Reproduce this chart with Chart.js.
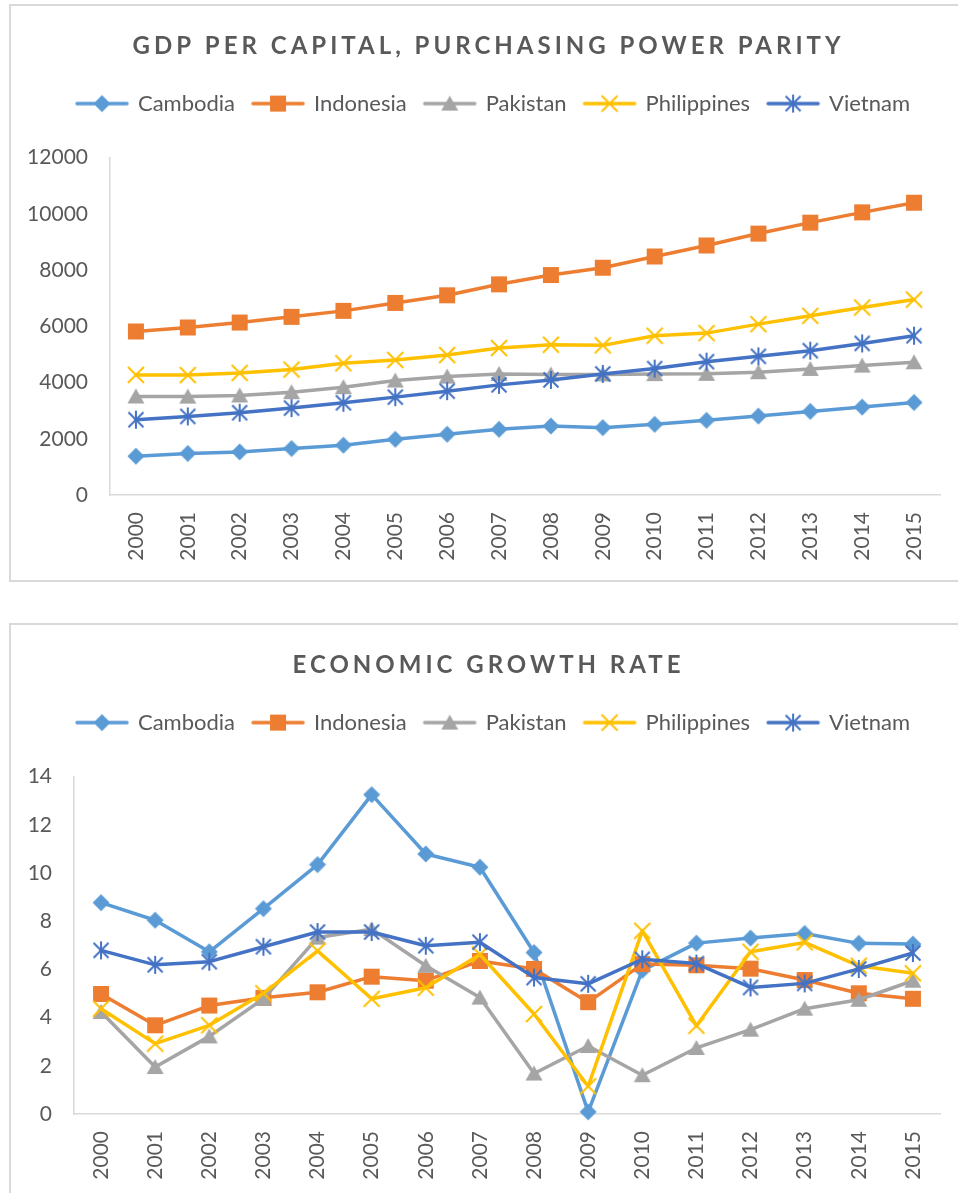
<!DOCTYPE html>
<html><head><meta charset="utf-8">
<script src="https://cdn.jsdelivr.net/npm/chart.js@4.4.1/dist/chart.umd.min.js"></script>
<style>
html,body{margin:0;padding:0;background:#fff;overflow:hidden;width:958px;height:1193px;position:relative;}
.box{position:absolute;left:9px;width:962px;border:2px solid #d9d9d9;box-sizing:border-box;}
#box1{top:4px;height:578px;}
#box2{top:623px;height:600px;}
canvas{position:absolute;left:11px;}
#c1{top:6px;}
#c2{top:625px;}
</style></head>
<body>
<div class="box" id="box1"></div>
<div class="box" id="box2"></div>
<canvas id="c1" width="947" height="574"></canvas>
<canvas id="c2" width="947" height="574"></canvas>
<script>
const years = ['2000','2001','2002','2003','2004','2005','2006','2007','2008','2009','2010','2011','2012','2013','2014','2015'];
const seriesNames = ['Cambodia','Indonesia','Pakistan','Philippines','Vietnam'];
const seriesColors = ['#5B9BD5','#ED7D31','#A5A5A5','#FFC000','#4472C4'];
const seriesMarkers = ['diamond','square','triangle','x','star'];

const gdpCambodia    = [1380,1476,1533,1653,1770,1982,2159,2336,2453,2396,2513,2655,2807,2973,3126,3292];
const gdpIndonesia   = [5816,5958,6135,6336,6549,6832,7104,7493,7823,8083,8484,8874,9298,9687,10053,10395];
const gdpPakistan    = [3504,3500,3540,3657,3835,4071,4212,4307,4285,4290,4300,4310,4366,4484,4602,4720];
const gdpPhilippines = [4271,4265,4342,4460,4685,4802,4979,5227,5345,5322,5664,5758,6077,6372,6667,6950];
const gdpVietnam     = [2678,2796,2926,3091,3280,3481,3693,3917,4094,4307,4496,4743,4932,5133,5392,5664];

const growCambodia    = [8.77,8.04,6.73,8.52,10.35,13.25,10.79,10.24,6.70,0.09,5.96,7.09,7.30,7.49,7.08,7.05];
const growIndonesia   = [4.98,3.68,4.50,4.82,5.05,5.70,5.53,6.35,6.02,4.64,6.22,6.17,6.03,5.56,5.01,4.78];
const growPakistan    = [4.23,1.95,3.22,4.78,7.32,7.67,6.15,4.83,1.68,2.82,1.61,2.74,3.50,4.37,4.74,5.53];
const growPhilippines = [4.37,2.92,3.68,5.01,6.77,4.78,5.24,6.62,4.15,1.15,7.60,3.66,6.73,7.12,6.15,5.84];
const growVietnam     = [6.79,6.19,6.32,6.94,7.55,7.55,6.98,7.13,5.66,5.40,6.42,6.24,5.25,5.42,6.02,6.68];

const gdpTitle = 'GDP PER CAPITAL, PURCHASING POWER PARITY';
const growTitle = 'ECONOMIC GROWTH RATE';
const gdpTicks = {min:0, max:12000, step:2000};
const growTicks = {min:0, max:14, step:2};

const TXT = '#595959';
const FONT = 'Lato';

function drawMarker(c, type, cx, cy, color){
  c.fillStyle = color; c.strokeStyle = color; c.lineCap = 'butt';
  if (type === 'diamond'){
    c.beginPath(); c.moveTo(cx, cy-8.5); c.lineTo(cx+8.5, cy); c.lineTo(cx, cy+8.5); c.lineTo(cx-8.5, cy); c.closePath(); c.fill();
  } else if (type === 'square'){
    c.fillRect(cx-8, cy-8, 16, 16);
  } else if (type === 'triangle'){
    c.beginPath(); c.moveTo(cx, cy-8); c.lineTo(cx+8.5, cy+7); c.lineTo(cx-8.5, cy+7); c.closePath(); c.fill();
  } else if (type === 'x'){
    c.lineWidth = 2; c.beginPath();
    c.moveTo(cx-8, cy-8); c.lineTo(cx+8, cy+8); c.moveTo(cx+8, cy-8); c.lineTo(cx-8, cy+8); c.stroke();
  } else if (type === 'star'){
    c.lineWidth = 2; c.beginPath();
    c.moveTo(cx, cy-9); c.lineTo(cx, cy+9);
    c.moveTo(cx-7.5, cy-7.5); c.lineTo(cx+7.5, cy+7.5);
    c.moveTo(cx+7.5, cy-7.5); c.lineTo(cx-7.5, cy+7.5); c.stroke();
  }
}
function markerImage(type, color){
  const cv = document.createElement('canvas'); cv.width = 22; cv.height = 22;
  drawMarker(cv.getContext('2d'), type, 11, 11, color);
  return cv;
}
function legendImage(type, color){
  const cv = document.createElement('canvas'); cv.width = 56; cv.height = 22;
  const c = cv.getContext('2d');
  c.strokeStyle = color; c.lineWidth = 3.5; c.lineCap = 'round';
  c.beginPath(); c.moveTo(3, 11); c.lineTo(53, 11); c.stroke();
  drawMarker(c, type, 28, 11, color);
  return cv;
}
const pointImgs = seriesNames.map((n,i)=>markerImage(seriesMarkers[i], seriesColors[i]));
const legendImgs = seriesNames.map((n,i)=>legendImage(seriesMarkers[i], seriesColors[i]));

function patchDraw(box, dx, spacing){
  if (!box || box._patched) return;
  const orig = box.draw.bind(box);
  box.draw = function(){
    const c = box.ctx;
    c.save(); c.translate(dx, 0);
    if (spacing) c.letterSpacing = spacing;
    orig(...arguments);
    c.restore();
  };
  box._patched = true;
}
const shiftBoxes = {
  id: 'shiftBoxes',
  beforeDraw(chart){
    patchDraw(chart.titleBlock, 13, '4px');
    patchDraw(chart.legend, 18, null);
  }
};
const legendGap = {
  id: 'legendGap',
  beforeInit(chart){
    const lg = chart.legend;
    const f = lg.fit;
    lg.fit = function(){ f.call(lg); this.height += 33; };
  }
};

function makeChart(id, title, dataArrays, tk, yWidth){
  const datasets = dataArrays.map((arr, i) => ({
    label: seriesNames[i],
    data: arr,
    borderColor: seriesColors[i],
    backgroundColor: seriesColors[i],
    borderWidth: 3.5,
    borderCapStyle: 'round',
    borderJoinStyle: 'round',
    pointStyle: pointImgs[i],
    pointRadius: 8,
    tension: 0,
    clip: false,
    order: seriesNames.length - i
  }));
  return new Chart(document.getElementById(id), {
    type: 'line',
    data: { labels: years, datasets },
    plugins: [shiftBoxes, legendGap],
    options: {
      responsive: false,
      animation: false,
      layout: { padding: { top: 0, right: 18, bottom: 0, left: 0 } },
      plugins: {
        title: {
          display: true, text: title, color: TXT,
          font: { family: FONT, size: 24, weight: 'bold', lineHeight: 1.2 },
          padding: { top: 25.9, bottom: 13.9 }
        },
        legend: {
          display: true, position: 'top',
          labels: {
            color: TXT, font: { family: FONT, size: 22 },
            usePointStyle: true, pointStyleWidth: 50, padding: 18,
            generateLabels(chart){
              const items = Chart.defaults.plugins.legend.labels.generateLabels(chart);
              items.forEach(it => { it.pointStyle = legendImgs[it.datasetIndex]; });
              return items.sort((a,b) => a.datasetIndex - b.datasetIndex);
            }
          }
        },
        tooltip: { enabled: false }
      },
      scales: {
        x: {
          offset: true,
          grid: { display: false, drawTicks: false },
          border: { display: true, color: '#d9d9d9', width: 1.5 },
          ticks: { maxRotation: 90, minRotation: 90, padding: 17, color: TXT, font: { family: FONT, size: 21 } },
          afterFit(s){ s.height = 85; }
        },
        y: {
          min: tk.min, max: tk.max,
          grid: { display: false, drawTicks: false },
          border: { display: true, color: '#d9d9d9', width: 1.5 },
          ticks: { stepSize: tk.step, padding: 22, color: TXT, font: { family: FONT, size: 21 },
                   callback: v => String(v) },
          afterFit(s){ s.width = yWidth; }
        }
      }
    }
  });
}

makeChart('c1', gdpTitle, [gdpCambodia, gdpIndonesia, gdpPakistan, gdpPhilippines, gdpVietnam], gdpTicks, 99);
makeChart('c2', growTitle, [growCambodia, growIndonesia, growPakistan, growPhilippines, growVietnam], growTicks, 63);
</script>
</body></html>
